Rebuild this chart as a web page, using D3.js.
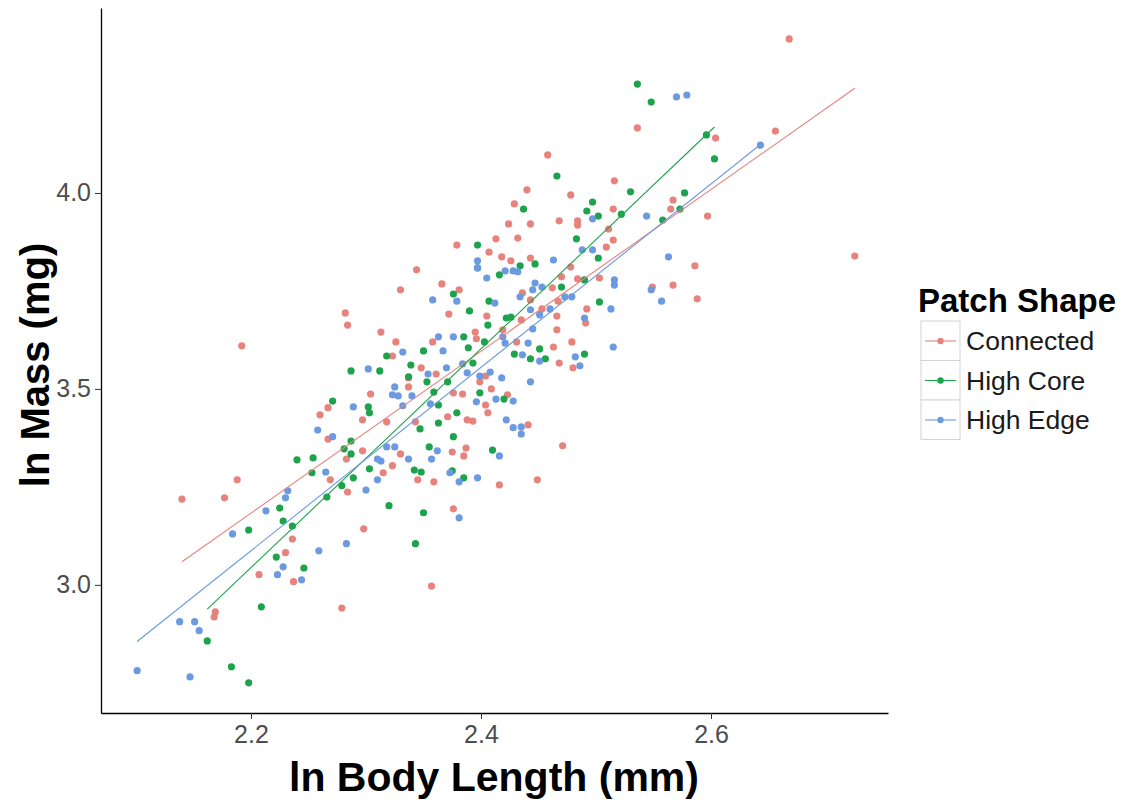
<!DOCTYPE html>
<html lang="en">
<head>
    <meta charset="UTF-8">
    <title>ln Mass vs ln Body Length</title>
    <script src="https://d3js.org/d3.v7.min.js"></script>
    <style>
        body {
            margin: 0;
            background-color: #ffffff;
        }
        svg text {
            font-family: 'Liberation Sans', Arial, sans-serif;
        }
        .tick text {
            fill: #4d4d4d;
            font-size: 25px;
        }
    </style>
</head>
<body>
    <svg id="chart" width="1133" height="803"></svg>
    <script>
        // groups in legend order
        const groups = ['Connected', 'High Core', 'High Edge'];
        const colors = ['#e6837c', '#1ea34d', '#6c9ae0'];

        // ln body length (x) / ln mass (y)
        const connectedX = [2.140, 2.188, 2.177, 2.236, 2.230, 2.207, 2.237, 2.169, 2.168, 2.283, 2.269, 2.284, 2.279,
            2.192, 2.282, 2.284, 2.267, 2.260, 2.267, 2.379, 2.344, 2.330, 2.366, 2.381, 2.313, 2.372, 2.326, 2.323,
            2.348, 2.358, 2.396, 2.304, 2.337, 2.337, 2.384, 2.361, 2.376, 2.297, 2.318, 2.343, 2.371, 2.388, 2.393,
            2.297, 2.330, 2.375, 2.387, 2.385, 2.323, 2.315, 2.345, 2.359, 2.376, 2.298, 2.458, 2.440, 2.429, 2.478,
            2.468, 2.484, 2.484, 2.443, 2.424, 2.413, 2.432, 2.407, 2.426, 2.443, 2.418, 2.478, 2.462, 2.470, 2.484,
            2.436, 2.443, 2.453, 2.467, 2.492, 2.405, 2.435, 2.466, 2.466, 2.419, 2.395, 2.431, 2.479, 2.491, 2.463,
            2.468, 2.480, 2.399, 2.404, 2.409, 2.423, 2.404, 2.406, 2.441, 2.471, 2.449, 2.416, 2.656, 2.536, 2.597,
            2.725, 2.586, 2.588, 2.567, 2.549, 2.516, 2.515, 2.511, 2.515, 2.509, 2.503, 2.567, 2.565, 2.604, 2.668,
            2.357];
        const connectedY = [3.219, 3.268, 3.222, 3.117, 3.082, 3.026, 3.008, 2.931, 2.918, 3.321, 3.268, 3.237, 2.941,
            3.610, 3.694, 3.663, 3.452, 3.434, 3.372, 3.867, 3.804, 3.753, 3.768, 3.753, 3.645, 3.691, 3.620, 3.584,
            3.554, 3.620, 3.628, 3.487, 3.505, 3.528, 3.487, 3.538, 3.490, 3.421, 3.416, 3.416, 3.429, 3.421, 3.418,
            3.342, 3.334, 3.339, 3.349, 3.329, 3.304, 3.286, 3.268, 3.263, 3.194, 3.143, 4.097, 4.008, 3.972, 3.995,
            3.929, 3.929, 3.918, 3.921, 3.921, 3.883, 3.885, 3.849, 3.827, 3.834, 3.837, 3.811, 3.758, 3.786, 3.781,
            3.745, 3.727, 3.704, 3.724, 3.704, 3.686, 3.676, 3.686, 3.651, 3.651, 3.645, 3.620, 3.620, 3.668, 3.607,
            3.566, 3.554, 3.518, 3.533, 3.500, 3.485, 3.459, 3.439, 3.408, 3.355, 3.268, 3.255, 4.158, 4.166, 3.941,
            3.839, 3.814, 3.730, 3.765, 3.760, 4.031, 3.959, 3.908, 3.880, 3.862, 3.783, 3.982, 3.959, 4.140, 4.393,
            2.997];

        const highCoreX = [2.240, 2.254, 2.253, 2.281, 2.279, 2.266, 2.225, 2.228, 2.236, 2.198, 2.222, 2.246, 2.209,
            2.162, 2.183, 2.198, 2.287, 2.271, 2.376, 2.390, 2.385, 2.389, 2.350, 2.318, 2.339, 2.312, 2.337, 2.353,
            2.371, 2.359, 2.393, 2.302, 2.397, 2.303, 2.363, 2.379, 2.363, 2.347, 2.376, 2.355, 2.287, 2.287, 2.303,
            2.289, 2.342, 2.348, 2.375, 2.385, 2.320, 2.350, 2.343, 2.466, 2.437, 2.497, 2.492, 2.502, 2.483, 2.397,
            2.434, 2.447, 2.416, 2.502, 2.490, 2.470, 2.407, 2.406, 2.422, 2.426, 2.403, 2.451, 2.429, 2.443, 2.456,
            2.490, 2.399, 2.420, 2.410, 2.536, 2.548, 2.596, 2.603, 2.530, 2.577, 2.573, 2.558, 2.522, 2.503];
        const highCoreY = [3.319, 3.324, 3.286, 3.347, 3.253, 3.224, 3.196, 3.163, 3.150, 3.140, 3.071, 3.043, 2.944,
            2.857, 2.791, 2.750, 3.546, 3.469, 3.742, 3.699, 3.633, 3.605, 3.597, 3.584, 3.561, 3.546, 3.531, 3.518,
            3.518, 3.492, 3.566, 3.454, 3.867, 3.439, 3.459, 3.439, 3.413, 3.398, 3.378, 3.352, 3.367, 3.334, 3.296,
            3.273, 3.293, 3.288, 3.291, 3.273, 3.202, 3.184, 3.105, 4.043, 3.959, 3.977, 3.954, 3.941, 3.883, 3.809,
            3.814, 3.819, 3.791, 3.834, 3.778, 3.760, 3.724, 3.663, 3.681, 3.683, 3.620, 3.602, 3.589, 3.577, 3.577,
            3.589, 3.490, 3.474, 3.344, 4.278, 4.232, 4.148, 4.087, 4.003, 4.000, 3.959, 3.931, 3.946, 3.722];

        const highEdgeX = [2.232, 2.230, 2.213, 2.184, 2.228, 2.223, 2.138, 2.151, 2.155, 2.101, 2.147, 2.265, 2.259,
            2.283, 2.244, 2.258, 2.271, 2.358, 2.379, 2.397, 2.397, 2.363, 2.376, 2.332, 2.367, 2.302, 2.370, 2.354,
            2.384, 2.388, 2.323, 2.328, 2.325, 2.340, 2.396, 2.289, 2.332, 2.356, 2.318, 2.325, 2.310, 2.313, 2.337,
            2.362, 2.357, 2.373, 2.381, 2.397, 2.310, 2.300, 2.381, 2.497, 2.488, 2.497, 2.463, 2.405, 2.421, 2.428,
            2.432, 2.447, 2.453, 2.445, 2.434, 2.412, 2.473, 2.479, 2.443, 2.451, 2.460, 2.490, 2.445, 2.419, 2.421,
            2.441, 2.436, 2.451, 2.482, 2.486, 2.399, 2.408, 2.418, 2.443, 2.413, 2.428, 2.422, 2.428, 2.435, 2.435,
            2.416, 2.570, 2.579, 2.643, 2.544, 2.563, 2.548, 2.557, 2.516, 2.516, 2.513, 2.515];
        const highEdgeY = [3.240, 3.222, 3.189, 3.130, 3.046, 3.026, 2.906, 2.906, 2.883, 2.781, 2.765, 3.288, 3.087,
            3.105, 3.013, 3.395, 3.378, 3.727, 3.724, 3.827, 3.809, 3.633, 3.633, 3.594, 3.597, 3.551, 3.554, 3.538,
            3.564, 3.541, 3.485, 3.482, 3.505, 3.482, 3.467, 3.454, 3.457, 3.462, 3.352, 3.352, 3.321, 3.316, 3.321,
            3.342, 3.321, 3.286, 3.263, 3.273, 3.268, 3.242, 3.171, 3.934, 3.855, 3.855, 3.829, 3.783, 3.801, 3.801,
            3.799, 3.770, 3.760, 3.753, 3.735, 3.719, 3.735, 3.735, 3.702, 3.689, 3.704, 3.681, 3.653, 3.633, 3.617,
            3.617, 3.587, 3.571, 3.582, 3.559, 3.533, 3.543, 3.528, 3.518, 3.474, 3.469, 3.421, 3.401, 3.403, 3.385,
            3.329, 4.245, 4.250, 4.122, 3.941, 3.837, 3.753, 3.724, 3.778, 3.765, 3.704, 3.607];

        // linear fits per group
        const fitSlopes = [2.065, 2.79, 2.34];
        const fitIntercepts = [-1.360, -3.094, -2.061];

        const xTicks = [2.2, 2.4, 2.6];
        const yTicks = [3.0, 3.5, 4.0];

        const seriesX = [connectedX, highCoreX, highEdgeX];
        const seriesY = [connectedY, highCoreY, highEdgeY];

        const points = [];
        groups.forEach((g, i) => {
            seriesX[i].forEach((x, j) => points.push({ group: i, x: x, y: seriesY[i][j] }));
        });

        const svg = d3.select('#chart');

        const x = d3.scaleLinear().domain([2.0696, 2.7539]).range([101, 888]);
        const y = d3.scaleLinear().domain([2.673, 4.472]).range([713, 8]);

        // points
        svg.append('g')
            .selectAll('circle')
            .data(points)
            .enter()
            .append('circle')
            .attr('cx', d => x(d.x))
            .attr('cy', d => y(d.y))
            .attr('r', 3.6)
            .attr('fill', d => colors[d.group]);

        // fitted lines over each group's x range
        groups.forEach((g, i) => {
            const ext = d3.extent(seriesX[i]);
            svg.append('line')
                .attr('x1', x(ext[0]))
                .attr('y1', y(fitIntercepts[i] + fitSlopes[i] * ext[0]))
                .attr('x2', x(ext[1]))
                .attr('y2', y(fitIntercepts[i] + fitSlopes[i] * ext[1]))
                .attr('stroke', colors[i])
                .attr('stroke-width', 1.1);
        });

        // axes
        const xAxis = svg.append('g')
            .attr('transform', 'translate(0,713)')
            .call(d3.axisBottom(x).tickValues(xTicks).tickFormat(d3.format('.1f')).tickSize(6).tickSizeOuter(0).tickPadding(6));
        const yAxis = svg.append('g')
            .attr('transform', 'translate(101,0)')
            .call(d3.axisLeft(y).tickValues(yTicks).tickFormat(d3.format('.1f')).tickSize(6).tickSizeOuter(0).tickPadding(4));

        [xAxis, yAxis].forEach(a => {
            a.select('.domain').attr('stroke', '#000').attr('stroke-width', 1.3);
            a.selectAll('.tick line').attr('stroke', '#333');
            a.selectAll('.tick text').attr('font-family', null).attr('font-size', null);
        });

        // axis titles
        svg.append('text')
            .attr('x', 494)
            .attr('y', 791)
            .attr('text-anchor', 'middle')
            .attr('font-size', 41)
            .attr('font-weight', 'bold')
            .attr('fill', '#000')
            .text('ln Body Length (mm)');

        svg.append('text')
            .attr('transform', 'translate(49,365) rotate(-90)')
            .attr('text-anchor', 'middle')
            .attr('font-size', 40)
            .attr('font-weight', 'bold')
            .attr('fill', '#000')
            .text('ln Mass (mg)');

        // legend
        const legend = svg.append('g').attr('transform', 'translate(918,0)');
        legend.append('text')
            .attr('x', 0)
            .attr('y', 312)
            .attr('font-size', 33)
            .attr('font-weight', 'bold')
            .attr('fill', '#000')
            .text('Patch Shape');

        groups.forEach((g, i) => {
            const top = 321 + i * 39.5;
            legend.append('rect')
                .attr('x', 3)
                .attr('y', top)
                .attr('width', 39)
                .attr('height', 39.5)
                .attr('fill', '#fff')
                .attr('stroke', '#d4d4d4');
            legend.append('line')
                .attr('x1', 7).attr('x2', 38)
                .attr('y1', top + 20).attr('y2', top + 20)
                .attr('stroke', colors[i])
                .attr('stroke-width', 1.1);
            legend.append('circle')
                .attr('cx', 22.5)
                .attr('cy', top + 20)
                .attr('r', 3.2)
                .attr('fill', colors[i]);
            legend.append('text')
                .attr('x', 48)
                .attr('y', top + 29)
                .attr('font-size', 26.5)
                .attr('fill', '#1a1a1a')
                .text(g);
        });
    </script>
</body>
</html>
